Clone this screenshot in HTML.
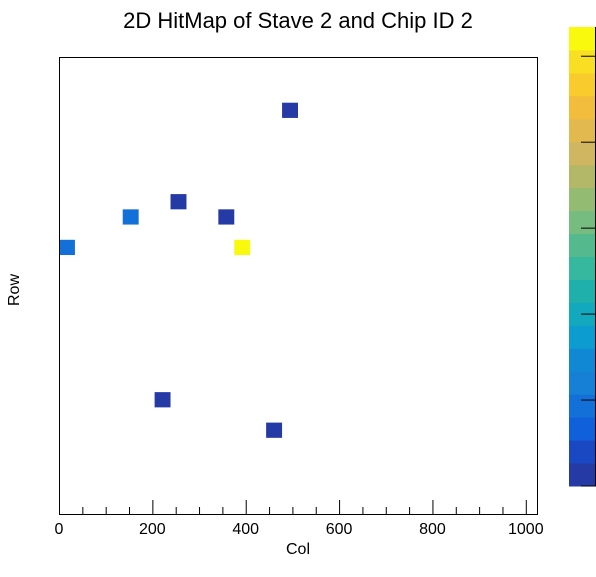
<!DOCTYPE html>
<html><head><meta charset="utf-8"><style>
body{margin:0;background:#fff;font-family:"Liberation Sans",sans-serif}
</style></head><body>
<svg id="c" width="596" height="572" xmlns="http://www.w3.org/2000/svg" font-family="Liberation Sans, sans-serif">
<rect width="596" height="572" fill="#fff"/>
<text x="298" y="28" text-anchor="middle" font-size="22">2D HitMap of Stave 2 and Chip ID 2</text>
<g id="cells"></g>
<rect x="59.5" y="57.5" width="478" height="457" fill="none" stroke="#000"/>
<g id="xaxis"></g>
<text x="298" y="554" text-anchor="middle" font-size="16">Col</text>
<text transform="translate(19,290) rotate(-90)" text-anchor="middle" font-size="16">Row</text>
<g id="cbar"></g>
</svg>
<script>
const cols = [0, 4, 7, 10, 11, 14, 6, 13];
const rows = [17, 19, 20, 19, 17, 26, 7, 5];
const counts = [2, 2, 1, 1, 6.3, 1, 1, 1];
const xTicks = [0, 200, 400, 600, 800, 1000];
const zTicks = [1, 2, 3, 4, 5, 6];
const palette = ["#253aa4","#1a48c2","#1060dc","#1370d9","#1680d6","#1188d4","#0d9cd0","#12a8bd","#20b0ab","#35b89d","#55b98e","#76bc80","#94bb72","#b3b868","#d0b660","#e2b94f","#f2bc3c","#f9cb2c","#f8df23","#f9f90e"];
const nBins = 30, xMax = 1024, yMax = 512, zMin = 1, zMax = 6.34;
const X0 = 59, X1 = 537, Y0 = 514, Y1 = 57;
const NS = "http://www.w3.org/2000/svg";
const sx = v => X0 + v / xMax * (X1 - X0);
const sy = v => Y0 - v / yMax * (Y0 - Y1);
const bw = xMax / nBins, bh = yMax / nBins;
function mk(tag, attrs, parent) { const e = document.createElementNS(NS, tag); for (const k in attrs) e.setAttribute(k, attrs[k]); parent.appendChild(e); return e; }
function colorOf(v) { let i = Math.floor((v - zMin) / (zMax - zMin) * palette.length + 1e-6); i = Math.max(0, Math.min(palette.length - 1, i)); return palette[i]; }
const cg = document.getElementById('cells');
cols.forEach((c, i) => {
  const x = sx(c * bw), x2 = sx((c + 1) * bw), y = sy((rows[i] + 1) * bh), y2 = sy(rows[i] * bh);
  const r = mk('rect', { x: x, y: y, width: x2 - x, height: y2 - y, fill: colorOf(counts[i]) }, cg);
  
  
});
const xa = document.getElementById('xaxis');
for (let v = 0; v <= 1020; v += 50) {
  const major = v % 200 === 0;
  mk('line', { x1: sx(v) + 0.5, x2: sx(v) + 0.5, y1: Y0, y2: Y0 - (major ? 14 : 7), stroke: '#000' }, xa);
}
xTicks.forEach(v => {
  const t = mk('text', { x: sx(v), y: 534, 'text-anchor': 'middle', 'font-size': 16 }, xa);
  t.textContent = v;
  
  
});
const cb = document.getElementById('cbar');
const CX0 = 569, CX1 = 595, CY0 = 486, CY1 = 27;
palette.forEach((col, i) => {
  const h = (CY0 - CY1) / palette.length;
  const r = mk('rect', { x: CX0, y: CY0 - (i + 1) * h, width: CX1 - CX0, height: h + 0.5, fill: col }, cb);
  
  
});
mk('line', { x1: 595.5, x2: 595.5, y1: CY1, y2: CY0, stroke: '#000' }, cb);
zTicks.forEach(v => {
  const y = CY0 - (v - zMin) / (zMax - zMin) * (CY0 - CY1);
  mk('line', { x1: 581, x2: 596, y1: y, y2: y, stroke: '#000' }, cb);
});
</script>
</body></html>
